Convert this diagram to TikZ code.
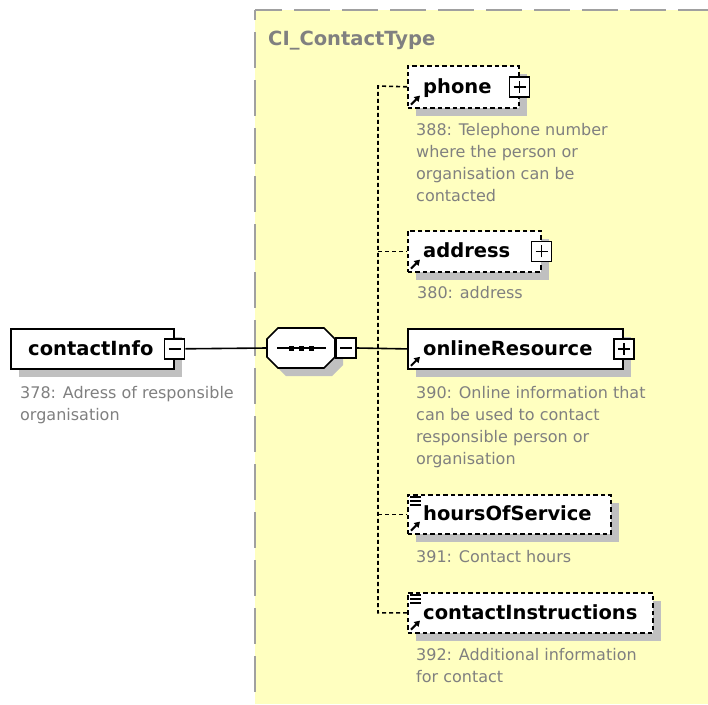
\documentclass[tikz,border=0pt]{standalone}
\usepackage{fontspec}
\setmainfont{DejaVu Sans}
\usetikzlibrary{shadows,arrows.meta}
\definecolor{bgyellow}{RGB}{255,255,192}
\definecolor{shadowgray}{RGB}{192,192,192}
\definecolor{descgray}{RGB}{128,128,128}
\definecolor{framegray}{RGB}{160,160,160}
\tikzset{
  sh/.style={drop shadow={shadow xshift=8pt,shadow yshift=-8pt,fill=shadowgray,opacity=1,shadow scale=1}},
  elembox/.style={draw=black,fill=white,line width=1.6pt,anchor=north west,inner sep=0pt,sh},
  optbox/.style={elembox,dash pattern=on 4.5pt off 3pt},
  pmbox/.style={draw=black,fill=white,line width=1.5pt,minimum size=20pt,inner sep=0pt},
  pmsign/.style={line width=1.5pt},
  lbl/.style={anchor=base west,inner sep=0pt,font=\fontsize{19.5}{22}\selectfont\bfseries},
  desc/.style={anchor=north west,inner sep=0pt,align=left,text=descgray,font=\fontsize{16}{22}\selectfont},
  conn/.style={draw=black,line width=1.6pt},
  dconn/.style={draw=black,line width=1.6pt,dash pattern=on 4pt off 3pt},
  refarrow/.style={line width=2pt,-{Triangle[length=5.5pt,width=6.5pt]}},
  simpleicon/.style={line width=1.3pt},
  frameline/.style={framegray,line width=2pt,dash pattern=on 36pt off 12pt},
}
\begin{document}
\begin{tikzpicture}[x=1pt,y=-1pt]
\useasboundingbox (0,0) rectangle (708,704);
\fill[white] (0,0) rectangle (708,704);
\fill[bgyellow] (255,10) rectangle (708,704);
\draw[frameline,dash phase=9pt] (255,10) -- (708,10);
\draw[frameline,dash phase=26pt] (255,10) -- (255,704);
\node[lbl,text=descgray] (title) at (268,45) {CI\_ContactType};

% contactInfo
\node[elembox,minimum width=163pt,minimum height=40pt] (ci) at (10,328) {};
\node[lbl] (cilbl) at (28,355) {contactInfo};
\node[pmbox] (cimin) at (ci.east) {};
\draw[pmsign] ([xshift=-6pt]cimin.center) -- ([xshift=6pt]cimin.center);
\node[desc] (cidesc) at (20,386) {378: Adress of responsible\\organisation};

% sequence compositor
\filldraw[fill=white,draw=black,line width=1.6pt,sh] (278,328) -- (324,328) -- (335,339) -- (335,357) -- (324,368) -- (278,368) -- (267,357) -- (267,339) -- cycle;
\node[inner sep=0pt,minimum width=68pt,minimum height=40pt] (seq) at (301,348) {};
\draw[line width=1.6pt] ([xshift=-24pt]seq.center) -- ([xshift=25pt]seq.center);
\foreach \dx in {-10,0,10} \fill ([xshift=\dx pt]seq.center) +(-2.5,-2.5) rectangle +(2.5,2.5);
\node[pmbox] (seqmin) at (346,348) {};
\draw[pmsign] ([xshift=-6pt]seqmin.center) -- ([xshift=6pt]seqmin.center);

% phone
\node[optbox,minimum width=111pt,minimum height=42pt] (phone) at (407,65) {};
\node[lbl] (phonelbl) at (423,93) {phone};
\node[pmbox] (phoneplus) at (phone.east) {};
\draw[pmsign] ([xshift=-6pt]phoneplus.center) -- ([xshift=6pt]phoneplus.center);
\draw[pmsign] ([yshift=-6pt]phoneplus.center) -- ([yshift=6pt]phoneplus.center);
\draw[refarrow] ([xshift=4pt,yshift=4pt]phone.south west) -- ([xshift=13pt,yshift=13pt]phone.south west);
\node[desc] (phonedesc) at (416,123) {388: Telephone number\\where the person or\\organisation can be\\contacted};

% address
\node[optbox,minimum width=133pt,minimum height=41pt] (address) at (407,230) {};
\node[lbl] (addresslbl) at (423,257.5) {address};
\node[pmbox] (addressplus) at (address.east) {};
\draw[pmsign] ([xshift=-6pt]addressplus.center) -- ([xshift=6pt]addressplus.center);
\draw[pmsign] ([yshift=-6pt]addressplus.center) -- ([yshift=6pt]addressplus.center);
\draw[refarrow] ([xshift=4pt,yshift=4pt]address.south west) -- ([xshift=13pt,yshift=13pt]address.south west);
\node[desc] (addressdesc) at (417,286) {380: address};

% onlineResource
\node[elembox,line width=1.8pt,minimum width=215pt,minimum height=40pt] (online) at (407,328) {};
\node[lbl] (onlinelbl) at (423,355) {onlineResource};
\node[pmbox] (onlineplus) at (online.east) {};
\draw[pmsign] ([xshift=-6pt]onlineplus.center) -- ([xshift=6pt]onlineplus.center);
\draw[pmsign] ([yshift=-6pt]onlineplus.center) -- ([yshift=6pt]onlineplus.center);
\draw[refarrow] ([xshift=4pt,yshift=4pt]online.south west) -- ([xshift=13pt,yshift=13pt]online.south west);
\node[desc] (onlinedesc) at (416,386) {390: Online information that\\can be used to contact\\responsible person or\\organisation};

% hoursOfService
\node[optbox,minimum width=203pt,minimum height=39pt] (hours) at (407,494) {};
\node[lbl] (hourslbl) at (423,520) {hoursOfService};
\foreach \dy in {3,7,11} \draw[simpleicon] ([xshift=3pt,yshift=-\dy pt]hours.north west) -- ++(11,0);
\draw[refarrow] ([xshift=4pt,yshift=4pt]hours.south west) -- ([xshift=13pt,yshift=13pt]hours.south west);
\node[desc] (hoursdesc) at (416,550) {391: Contact hours};

% contactInstructions
\node[optbox,minimum width=245pt,minimum height=40pt] (cinstr) at (407,592) {};
\node[lbl] (cinstrlbl) at (423,619) {contactInstructions};
\foreach \dy in {3,7,11} \draw[simpleicon] ([xshift=3pt,yshift=-\dy pt]cinstr.north west) -- ++(11,0);
\draw[refarrow] ([xshift=4pt,yshift=4pt]cinstr.south west) -- ([xshift=13pt,yshift=13pt]cinstr.south west);
\node[desc] (cinstrdesc) at (416,648) {392: Additional information\\for contact};

% connectors
\coordinate (b1) at (378,86);
\draw[dconn] (phone.west) -- (b1) -- (b1 |- cinstr.west) -- (cinstr.west);
\draw[dconn] (b1 |- address.west) -- (address.west);
\draw[dconn] (b1 |- hours.west) -- (hours.west);
\draw[conn] (cimin.east) -- (seq.west);
\draw[conn] (seqmin.east) -- (online.west);
\end{tikzpicture}
\end{document}
